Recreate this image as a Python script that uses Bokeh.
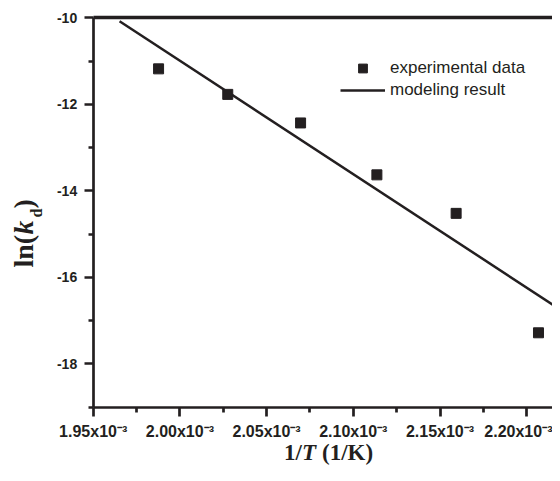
import math
from bokeh.plotting import figure
from bokeh.models import Range1d, FixedTicker, Label, Legend, LegendItem, LinearAxis
from bokeh.embed import file_html
from bokeh.resources import INLINE

# ---- data ----
inv_T = [1.9877e-3, 2.0276e-3, 2.0696e-3, 2.1136e-3, 2.1593e-3, 2.2068e-3]
ln_kd = [-11.18, -11.77, -12.43, -13.63, -14.52, -17.28]

fit_x = [1.9652e-3, 2.2196e-3]
fit_y = [-10.08, -16.75]

x_ticks = [1.95e-3, 2.00e-3, 2.05e-3, 2.10e-3, 2.15e-3, 2.20e-3]
x_minor = [1.975e-3, 2.025e-3, 2.075e-3, 2.125e-3, 2.175e-3]
x_tick_labels = ["1.95x10⁻³", "2.00x10⁻³", "2.05x10⁻³", "2.10x10⁻³", "2.15x10⁻³", "2.20x10⁻³"]
y_ticks = [-18, -16, -14, -12, -10]
y_minor = [-19, -17, -15, -13, -11]
y_tick_labels = ["-18", "-16", "-14", "-12", "-10"]

x_start, y_bounds = 1.95e-3, (-19, -10)

INK = "#231f20"
W, H = 552, 465

# plot box position on canvas (px)
BOX_L, BOX_T, BOX_B = 92.7, 17.3, 406.7
X_PER_PX = 0.05e-3 / 86.7
ys = (y_bounds[1] - y_bounds[0]) / (BOX_B - BOX_T)
x_end = x_start + (W - BOX_L) * X_PER_PX
x_bounds = (x_start, x_end)
x_range = Range1d(x_start - BOX_L * X_PER_PX, x_end)
y_range = Range1d(y_bounds[0] - (H - BOX_B) * ys, y_bounds[1] + BOX_T * ys)

p = figure(width=W, height=H, output_backend="svg", toolbar_location=None,
           x_range=x_range, y_range=y_range, x_axis_type=None, y_axis_type=None,
           min_border=0)
p.outline_line_color = None
p.background_fill_color = "white"
p.border_fill_color = "white"


def style_axis(ax):
    ax.axis_line_width = 2.7
    ax.axis_line_color = INK
    ax.major_tick_line_width = 2.7
    ax.minor_tick_line_width = 2.7
    ax.major_tick_line_color = INK
    ax.minor_tick_line_color = INK
    ax.major_tick_in = 0
    ax.minor_tick_in = 0
    ax.major_tick_out = 9
    ax.minor_tick_out = 5
    ax.major_label_text_font = "Liberation Sans"
    ax.major_label_text_font_style = "bold"
    ax.major_label_text_color = INK


xax = LinearAxis(fixed_location=y_bounds[0], bounds=x_bounds,
                 ticker=FixedTicker(ticks=x_ticks, minor_ticks=x_minor))
style_axis(xax)
xax.major_label_overrides = {t: s for t, s in zip(x_ticks, x_tick_labels)}
xax.major_label_text_font_size = "16px"
xax.major_label_standoff = 7
p.add_layout(xax, "below")

yax = LinearAxis(fixed_location=x_bounds[0], bounds=y_bounds,
                 ticker=FixedTicker(ticks=y_ticks, minor_ticks=y_minor))
style_axis(yax)
yax.major_label_overrides = {t: s for t, s in zip(y_ticks, y_tick_labels)}
yax.major_label_text_font_size = "14px"
yax.major_label_standoff = 7
p.add_layout(yax, "left")

# top frame line: a plain axis without ticks or labels
tax = LinearAxis(fixed_location=y_bounds[1], bounds=x_bounds,
                 ticker=FixedTicker(ticks=[], minor_ticks=[]))
tax.axis_line_width = 3.3
tax.axis_line_color = INK
tax.major_label_text_font_size = "0px"
p.add_layout(tax, "above")

line_r = p.line(fit_x, fit_y, line_width=2.5, line_color=INK)
pts_r = p.scatter(inv_T, ln_kd, marker="square", size=10, fill_color=INK, line_color=INK)

legend = Legend(items=[LegendItem(label="experimental data", renderers=[pts_r]),
                       LegendItem(label="modeling result", renderers=[line_r])],
                location=(340, H - 101), padding=0, margin=0, spacing=0,
                glyph_width=45, glyph_height=22, label_height=22, label_standoff=5,
                border_line_color=None, background_fill_alpha=0,
                label_text_font="Liberation Sans", label_text_font_size="17px",
                label_text_color=INK)
p.add_layout(legend)


def lab(text, px, py, size, style="bold", angle=0.0):
    # anchor = bottom of the text box (baseline + descent)
    p.add_layout(Label(x=px, y=H - py, x_units="screen", y_units="screen",
                       text=text, text_font="Liberation Serif", text_font_size=f"{size}px",
                       text_font_style=style, text_color=INK, angle=angle,
                       text_align="left", text_baseline="bottom"))


# y title: ln(k_d), rotated (bottom of text box toward the axis)
r = math.pi / 2
lab("ln(", 38.5, 267, 28, "bold", r)
lab("k", 38.5, 234, 28, "bold italic", r)
lab("d", 44.5, 217, 16, "bold", r)
lab(")", 38.5, 208, 28, "bold", r)

# x title: 1/T (1/K)
lab("1/", 283.5, 464.5, 23, "bold")
lab("T", 301.5, 464.5, 23, "bold italic")
lab("(1/K)", 321.5, 464.5, 23, "bold")

open("out.html", "w").write(file_html(p, INLINE))
